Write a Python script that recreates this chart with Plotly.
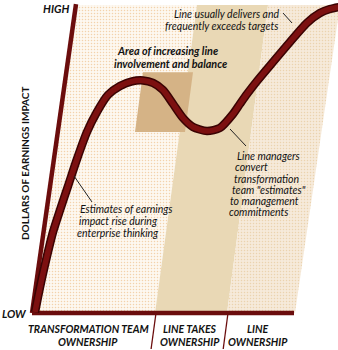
import plotly.graph_objects as go

# ---------------- data ----------------
# horizontal axis: time / ownership progression (chart units), vertical: dollars of earnings impact (0=LOW, 100=HIGH)
curve_time = [35, 38, 42, 47, 53, 60, 68, 77, 87, 97, 108, 120, 132, 143, 153, 163, 173,
              183, 193, 207, 220, 233, 240, 247, 257, 273, 290, 307, 320, 330, 340]
curve_impact = [0.3, 5.2, 11.4, 18.5, 26.3, 33.4, 41.2, 50.0, 58.8, 65.3, 70.8, 73.7, 75.2, 75.5,
                74.7, 72.4, 67.9, 63.3, 60.4, 59.1, 60.1, 64.6, 67.9, 71.1, 75.3, 81.5, 88.0,
                94.2, 97.4, 98.7, 99.4]

# ownership phases: boundaries at the bottom (impact 0) and top (impact 100) of the slanted chart
phase_names = ["TRANSFORMATION TEAM<br>OWNERSHIP", "LINE TAKES<br>OWNERSHIP", "LINE<br>OWNERSHIP"]
phase_bottom = [33, 155, 227, 295]
phase_top = [77, 197, 268, 340]

# area of increasing line involvement and balance (time span at top / bottom, impact span)
area_top_time = [143, 193]
area_bottom_time = [135, 185]
area_impact = [58.8, 78.2]

IMPACT_LOW, IMPACT_HIGH = 0, 100

# ---------------- layout helpers ----------------
W, H = 338, 350
Y0_PX, PX_PER_UNIT = 313, 3.08
def yv(px):
    return (Y0_PX - px) / PX_PER_UNIT

y_range = [yv(H), yv(0)]

dark = "#6b0d0d"
fig = go.Figure()

# phase bands
band_bg = ["#fdf8f0", "#e9d8b5", "#f6eada"]
band_dot = ["#f3d2ab", None, "#ebd3ae"]
for i in range(3):
    xs = [phase_bottom[i], phase_top[i], phase_top[i + 1], phase_bottom[i + 1], phase_bottom[i]]
    ys = [IMPACT_LOW, IMPACT_HIGH, IMPACT_HIGH, IMPACT_LOW, IMPACT_LOW]
    kw = {}
    if band_dot[i]:
        kw["fillpattern"] = dict(shape=".", bgcolor=band_bg[i], fgcolor=band_dot[i],
                                 size=3, solidity=0.2, fillmode="replace")
    fig.add_trace(go.Scatter(x=xs, y=ys, fill="toself", fillcolor=band_bg[i], mode="none",
                             hoverinfo="skip", showlegend=False, **kw))

# area rectangle
fig.add_trace(go.Scatter(
    x=[area_bottom_time[0], area_top_time[0], area_top_time[1], area_bottom_time[1], area_bottom_time[0]],
    y=[area_impact[0], area_impact[1], area_impact[1], area_impact[0], area_impact[0]],
    fill="toself", fillcolor="#d5b386", mode="none", hoverinfo="skip", showlegend=False))

# axes
fig.add_trace(go.Scatter(x=[phase_bottom[0] - 1, phase_top[0] - 1], y=[IMPACT_LOW, IMPACT_HIGH + 0.3],
                         mode="lines", line=dict(color=dark, width=4.5), hoverinfo="skip", showlegend=False))
fig.add_trace(go.Scatter(x=[phase_bottom[0] - 1, phase_bottom[3] - 1], y=[IMPACT_LOW, IMPACT_LOW],
                         mode="lines", line=dict(color=dark, width=4.5), hoverinfo="skip", showlegend=False))
# phase dividers below axis
for b, t in zip(phase_bottom[1:3], phase_top[1:3]):
    slope = (t - b) / (IMPACT_HIGH - IMPACT_LOW)
    fig.add_trace(go.Scatter(x=[b + 1, b + 1 + slope * yv(349)], y=[IMPACT_LOW, yv(349)],
                             mode="lines", line=dict(color=dark, width=1.3), hoverinfo="skip", showlegend=False))

# curve
fig.add_trace(go.Scatter(x=curve_time, y=curve_impact, mode="lines",
                         line=dict(color="#3a0303", width=8.5, shape="spline", smoothing=0.7),
                         hoverinfo="skip", showlegend=False))
fig.add_trace(go.Scatter(x=curve_time, y=curve_impact, mode="lines",
                         line=dict(color="#7c1010", width=5.5, shape="spline", smoothing=0.7),
                         hoverinfo="skip", showlegend=False))

# leader lines
for (x1, p1, x2, p2) in [(74, 176, 92, 202), (230, 129, 246, 146), (283, 13, 292, 23)]:
    fig.add_trace(go.Scatter(x=[x1, x2], y=[yv(p1), yv(p2)], mode="lines",
                             line=dict(color="#222222", width=1), hoverinfo="skip", showlegend=False))

FONT = "Lato, Open Sans, sans-serif"
def note(text, x, py, size=10.5, bold=False, anchor="center", angle=0):
    fig.add_annotation(x=x, y=yv(py), text=text, showarrow=False, xanchor=anchor, yanchor="middle",
                       textangle=angle,
                       font=dict(family=FONT, size=size, color="#111111", style="italic",
                                 weight="bold" if bold else "normal"))

note("HIGH", 55.5, 8, 11, True)
note("LOW", 14, 313, 11, True)
fig.add_annotation(x=25, y=yv(164), text="DOLLARS OF EARNINGS IMPACT", showarrow=False, textangle=-90,
                   xanchor="center", yanchor="middle",
                   font=dict(family=FONT, size=10, color="#111111", weight="bold"))

phase_label_x = [88, 190, 258]
for name, x in zip(phase_names, phase_label_x):
    l1, l2 = name.split("<br>")
    note(l1, x, 329, 10.5, True)
    note(l2, x, 342, 10.5, True)

note("Area of increasing line", 167, 50, 10.8, True)
note("involvement and balance", 170, 63, 10.8, True)
note("Line usually delivers and", 226.5, 14, 10.5)
note("frequently exceeds targets", 221, 26, 10.5)
note("Estimates of earnings", 78, 209, 10.5, anchor="left")
note("impact rise during", 77, 221, 10.5, anchor="left")
note("enterprise thinking", 75, 233, 10.5, anchor="left")
for txt, x, py in [("Line managers", 235, 156), ("convert", 233, 167), ("transformation", 232, 178.5),
                   ("team \"estimates\"", 230, 190), ("to management", 228, 201), ("commitments", 227, 212)]:
    note(txt, x, py, 10.5, anchor="left")

fig.update_layout(width=W, height=H, margin=dict(l=0, r=0, t=0, b=0),
                  paper_bgcolor="white", plot_bgcolor="white",
                  xaxis=dict(range=[0, W], visible=False, fixedrange=True),
                  yaxis=dict(range=y_range, visible=False, fixedrange=True))
fig.write_html("out.html", config={"displayModeBar": False})
